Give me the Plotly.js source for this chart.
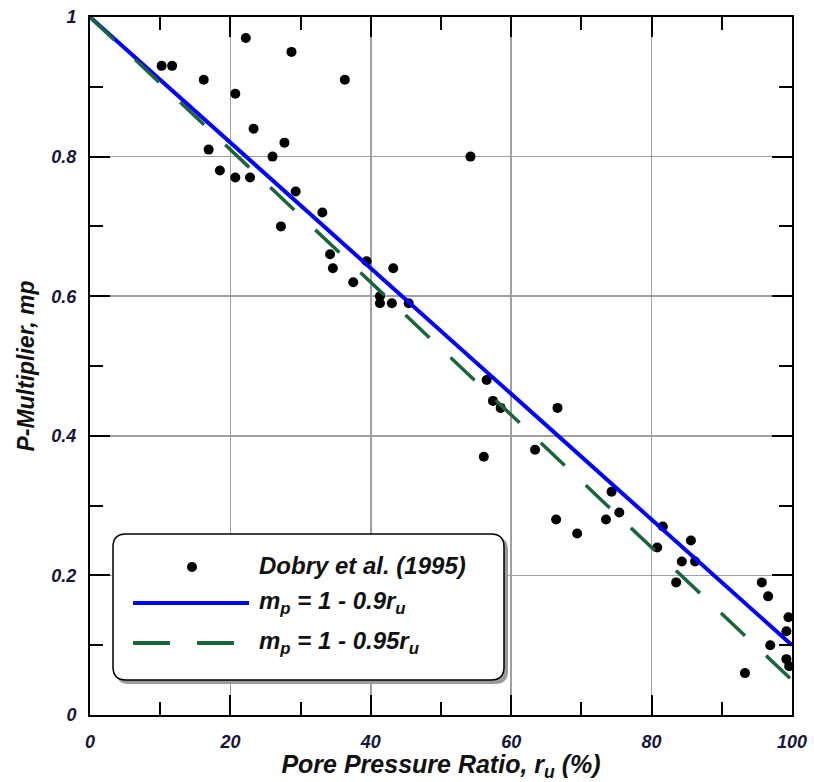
<!DOCTYPE html>
<html>
<head>
<meta charset="utf-8">
<script src="https://cdn.plot.ly/plotly-3.0.1.min.js"></script>
<style>html,body{margin:0;padding:0;background:#fff;}#chart{width:814px;height:782px;}</style>
</head>
<body>
<div id="chart"></div>
<script>
// Data: Dobry et al. (1995) measured points
var ruPct = [10.2, 11.7, 16.2, 16.9, 18.5, 20.7, 20.7, 22.2, 22.8, 23.3, 26.0, 27.2, 27.7, 28.7, 29.3, 33.1,
             34.2, 34.6, 36.3, 37.5, 39.4, 41.3, 41.3, 43.0, 43.2, 45.4, 54.2, 56.1, 56.5, 57.4, 58.5, 63.4,
             66.4, 66.6, 69.4, 73.5, 74.3, 75.4, 80.8, 81.6, 83.5, 84.3, 85.6, 86.2, 93.3, 95.7, 96.6, 96.9,
             99.2, 99.5, 99.2, 99.6];
var mpVals = [0.93, 0.93, 0.91, 0.81, 0.78, 0.89, 0.77, 0.97, 0.77, 0.84, 0.80, 0.70, 0.82, 0.95, 0.75, 0.72,
              0.66, 0.64, 0.91, 0.62, 0.65, 0.60, 0.59, 0.59, 0.64, 0.59, 0.80, 0.37, 0.48, 0.45, 0.44, 0.38,
              0.28, 0.44, 0.26, 0.28, 0.32, 0.29, 0.24, 0.27, 0.19, 0.22, 0.25, 0.22, 0.06, 0.19, 0.17, 0.10,
              0.12, 0.14, 0.08, 0.07];
// Fit lines: mp = 1 - k * ru
var fitCoefs = [0.9, 0.95];
var fitRange = [0, 100];
var seriesNames = ['Dobry et al. (1995)', 'm<sub>p</sub> = 1 - 0.9r<sub>u</sub>', 'm<sub>p</sub> = 1 - 0.95r<sub>u</sub>'];
var xTickVals = [0, 20, 40, 60, 80, 100];
var yTickVals = [0, 0.2, 0.4, 0.6, 0.8, 1];

function fitY(k) { return fitRange.map(function (r) { return 1 - k * r / 100; }); }

var textCol = '#15153a';
var FONT = 'Liberation Sans, Arial, sans-serif';

var traces = [
  {x: ruPct, y: mpVals, type: 'scatter', mode: 'markers', name: seriesNames[0], cliponaxis: false,
   marker: {color: '#000', size: 10, symbol: 'circle'}},
  {x: fitRange, y: fitY(fitCoefs[0]), type: 'scatter', mode: 'lines', name: seriesNames[1], cliponaxis: false,
   line: {color: '#0000ff', width: 4}},
  {x: fitRange, y: fitY(fitCoefs[1]), type: 'scatter', mode: 'lines', name: seriesNames[2], cliponaxis: false,
   line: {color: '#1a6638', width: 3.5, dash: '33px,29px'}}
];

// pixel -> paper helpers (plot area 90..792 x, 17..715 y)
function PX(x) { return (x - 90) / 702; }
function PY(y) { return (715 - y) / 698; }
function roundRect(x0, y0, x1, y1, r) {
  var rx = r / 702, ry = r / 698;
  var a = PX(x0), b = PX(x1), t = PY(y0), u = PY(y1);
  return 'M' + (a + rx) + ',' + t + ' L' + (b - rx) + ',' + t + ' Q' + b + ',' + t + ' ' + b + ',' + (t - ry) +
         ' L' + b + ',' + (u + ry) + ' Q' + b + ',' + u + ' ' + (b - rx) + ',' + u +
         ' L' + (a + rx) + ',' + u + ' Q' + a + ',' + u + ' ' + a + ',' + (u + ry) +
         ' L' + a + ',' + (t - ry) + ' Q' + a + ',' + t + ' ' + (a + rx) + ',' + t + ' Z';
}

var shapes = [
  {type: 'path', xref: 'paper', yref: 'paper', path: roundRect(116, 537, 508, 684, 13), fillcolor: '#9a9a9a', line: {width: 0}, layer: 'above'},
  {type: 'path', xref: 'paper', yref: 'paper', path: roundRect(113, 534, 504, 680, 13), fillcolor: '#ffffff', line: {color: '#000', width: 1.5}, layer: 'above'},
  {type: 'circle', xref: 'paper', yref: 'paper', xsizemode: 'pixel', ysizemode: 'pixel',
   xanchor: PX(192), yanchor: PY(567), x0: -5, x1: 5, y0: -5, y1: 5, fillcolor: '#000', line: {width: 0}, layer: 'above'},
  {type: 'line', xref: 'paper', yref: 'paper', x0: PX(133), x1: PX(249), y0: PY(603), y1: PY(603),
   line: {color: '#0000ff', width: 4}, layer: 'above'},
  {type: 'line', xref: 'paper', yref: 'paper', x0: PX(133), x1: PX(234), y0: PY(643), y1: PY(643),
   line: {color: '#1a6638', width: 4, dash: '37px,27px'}, layer: 'above'}
];

var legFont = {family: FONT, size: 24, color: '#111', weight: 'bold', style: 'italic'};
var annotations = [
  {xref: 'paper', yref: 'paper', x: PX(257), y: PY(565), xanchor: 'left', yanchor: 'middle', showarrow: false, text: seriesNames[0], font: legFont},
  {xref: 'paper', yref: 'paper', x: PX(257), y: PY(602), xanchor: 'left', yanchor: 'middle', showarrow: false, text: seriesNames[1], font: legFont},
  {xref: 'paper', yref: 'paper', x: PX(257), y: PY(642), xanchor: 'left', yanchor: 'middle', showarrow: false, text: seriesNames[2], font: legFont}
];

var tickFont = {family: FONT, size: 18, color: textCol, weight: 'bold', style: 'italic'};

var layout = {
  width: 814, height: 782,
  margin: {l: 90, r: 22, t: 17, b: 67, pad: 0},
  paper_bgcolor: '#fff', plot_bgcolor: '#fff',
  showlegend: false,
  xaxis: {
    range: [0, 100], tickvals: xTickVals, ticks: 'inside', ticklen: 20, tickwidth: 2, tickcolor: '#000',
    showgrid: true, gridcolor: '#a0a0a0', gridwidth: 1.5, zeroline: false,
    showline: true, linecolor: '#000', linewidth: 2, mirror: 'ticks',
    minor: {dtick: 10, ticks: 'inside', ticklen: 13, tickwidth: 2, tickcolor: '#000', showgrid: false},
    tickfont: tickFont, ticklabelstandoff: 9, automargin: false,
    title: {text: 'Pore Pressure Ratio, r<sub>u</sub> (%)', standoff: 3,
            font: {family: FONT, size: 25, color: '#111', weight: 'bold', style: 'italic'}}
  },
  yaxis: {
    range: [0, 1], tickvals: yTickVals, ticks: 'inside', ticklen: 20, tickwidth: 2, tickcolor: '#000',
    showgrid: true, gridcolor: '#a0a0a0', gridwidth: 1.5, zeroline: false,
    showline: true, linecolor: '#000', linewidth: 2, mirror: 'ticks',
    minor: {dtick: 0.1, ticks: 'inside', ticklen: 13, tickwidth: 2, tickcolor: '#000', showgrid: false},
    tickfont: tickFont, ticklabelstandoff: 8, automargin: false,
    title: {text: 'P-Multiplier, mp', standoff: 10,
            font: {family: FONT, size: 23, color: '#111', weight: 'bold', style: 'italic'}}
  },
  shapes: shapes,
  annotations: annotations
};

Plotly.newPlot('chart', traces, layout, {staticPlot: true, displayModeBar: false});
</script>
</body>
</html>
